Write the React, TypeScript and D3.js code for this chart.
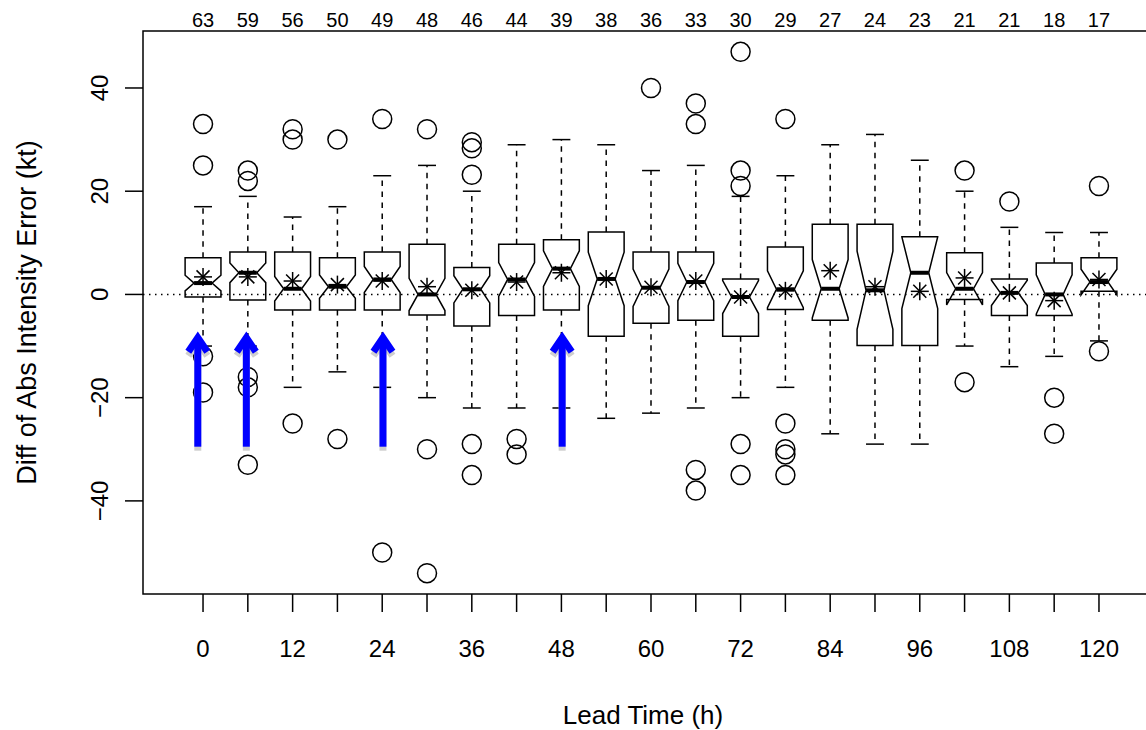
import React from "react";
import * as d3 from "d3";

const leads = [0, 6, 12, 18, 24, 30, 36, 42, 48, 54, 60, 66, 72, 78, 84, 90, 96, 102, 108, 114, 120];
const counts = [63, 59, 56, 50, 49, 48, 46, 44, 39, 38, 36, 33, 30, 29, 27, 24, 23, 21, 21, 18, 17];
const q1 = [-0.5, -1.1, -3, -3, -3, -4, -6.1, -4.1, -3, -8.1, -5.6, -5, -8.1, -2.9, -5, -9.9, -9.9, -1, -4.1, -4.1, 0.6];
const q3 = [7.1, 8.2, 8.2, 7.1, 8.2, 9.7, 5.2, 9.7, 10.6, 12.1, 8.2, 8.2, 3, 9.2, 13.6, 13.6, 11.2, 8.1, 3, 6.1, 7.1];
const medians = [2.2, 4.2, 1.1, 1.5, 2.9, 0, 1, 2.9, 5, 3, 1.3, 2.4, -0.5, 1, 1.1, 0.8, 4.2, 1.1, 0.3, 0, 2.4];
const means = [3.4, 3.4, 2.6, 1.9, 2.6, 1.5, 0.8, 2.4, 4.2, 3, 1.4, 2.6, -0.5, 0.7, 4.6, 1.5, 0.6, 3.2, 0.3, -1.2, 2.9];
const whiskLo = [-10, -10, -18, -15, -18, -20, -22, -22, -22, -24, -23, -22, -20, -18, -27, -29, -29, -10, -14, -12, -9];
const whiskHi = [17, 19, 15, 17, 23, 25, 20, 29, 30, 29, 24, 25, 19, 23, 29, 31, 26, 20, 13, 12, 12];
const outliers: number[][] = [
  [33, 25, -12, -19],
  [24, 22, -16, -18, -33],
  [32, 30, -25],
  [30, -28],
  [34, -50],
  [32, -30, -54],
  [29.5, 28.3, 23.2, -29, -35],
  [-28, -31],
  [],
  [],
  [40],
  [37, 33, -34, -38],
  [47, 24, 21, -29, -35],
  [34, -25, -30, -31, -35],
  [],
  [],
  [],
  [24, -17],
  [18],
  [-20, -27],
  [21, -11],
];
const yTicks = [-40, -20, 0, 20, 40];
const xLabelLeads = [0, 12, 24, 36, 48, 60, 72, 84, 96, 108, 120];
const arrowLeads = [-0.7, 5.8, 24.1, 48.1];
const arrowFrom = -29.5;
const arrowTo = -7.8;

const FONT = "'Liberation Sans', Arial, Helvetica, sans-serif";

export default function App() {
  const left = 143, right = 1159, top = 31, bottom = 594;
  const x = d3.scaleLinear().domain([-8.04, 128.04]).range([left, right]);
  const y = d3.scaleLinear().domain([-58.04, 51.04]).range([bottom, top]);
  const step = x(6) - x(0);
  const w = (step * 0.8) / 2;
  const lw = 1.5;

  const boxes = leads.map((lead, i) => {
    const cx = x(lead);
    const n = counts[i];
    const half = (1.58 * (q3[i] - q1[i])) / Math.sqrt(n);
    const lo = medians[i] - half;
    const hi = medians[i] + half;
    const pts: [number, number][] = [
      [cx - w, y(q1[i])],
      [cx - w, y(lo)],
      [cx - w / 2, y(medians[i])],
      [cx - w, y(hi)],
      [cx - w, y(q3[i])],
      [cx + w, y(q3[i])],
      [cx + w, y(hi)],
      [cx + w / 2, y(medians[i])],
      [cx + w, y(lo)],
      [cx + w, y(q1[i])],
    ];
    const my = y(means[i]);
    const a = 9, b = 6.5;
    return (
      <g key={lead}>
        <line x1={cx} x2={cx} y1={y(q3[i])} y2={y(whiskHi[i])} stroke="#000" strokeWidth={lw} strokeDasharray="5.5,5.5" />
        <line x1={cx} x2={cx} y1={y(q1[i])} y2={y(whiskLo[i])} stroke="#000" strokeWidth={lw} strokeDasharray="5.5,5.5" />
        <line x1={cx - w / 2} x2={cx + w / 2} y1={y(whiskHi[i])} y2={y(whiskHi[i])} stroke="#000" strokeWidth={lw} />
        <line x1={cx - w / 2} x2={cx + w / 2} y1={y(whiskLo[i])} y2={y(whiskLo[i])} stroke="#000" strokeWidth={lw} />
        <polygon points={pts.map((p) => p.join(",")).join(" ")} fill="none" stroke="#000" strokeWidth={lw} strokeLinejoin="miter" />
        <line x1={cx - w / 2} x2={cx + w / 2} y1={y(medians[i])} y2={y(medians[i])} stroke="#000" strokeWidth={4} />
        {outliers[i].map((v, j) => (
          <circle key={j} cx={cx} cy={y(v)} r={9.5} fill="none" stroke="#000" strokeWidth={lw} />
        ))}
        <g stroke="#000" strokeWidth={lw}>
          <line x1={cx - a} x2={cx + a} y1={my} y2={my} />
          <line x1={cx} x2={cx} y1={my - a} y2={my + a} />
          <line x1={cx - b} x2={cx + b} y1={my - b} y2={my + b} />
          <line x1={cx - b} x2={cx + b} y1={my + b} y2={my - b} />
        </g>
        <text x={cx} y={20} textAnchor="middle" dominantBaseline="central" fontSize={20} fontFamily={FONT}>
          {n}
        </text>
      </g>
    );
  });

  const arrow = (ax: number, color: string, dy: number, key: string) => {
    const tipY = y(arrowTo) + dy;
    const baseY = y(arrowFrom) + dy;
    return (
      <g key={key} stroke={color} strokeWidth={7} fill="none">
        <line x1={ax} x2={ax} y1={baseY} y2={tipY + 4} />
        <polyline points={`${ax - 9.5},${tipY + 17} ${ax},${tipY + 3} ${ax + 9.5},${tipY + 17}`} strokeLinejoin="miter" />
      </g>
    );
  };

  return (
    <svg width={1146} height={730} style={{ position: "absolute", left: 0, top: 0, background: "#fff" }}>
      <rect x={0} y={0} width={1146} height={730} fill="#fff" />
      <line x1={left} x2={right} y1={y(0)} y2={y(0)} stroke="#000" strokeWidth={1.5} strokeDasharray="1.5,4.5" />
      {boxes}
      {arrowLeads.map((l, i) => arrow(x(l), "#cfcfcf", 4, "s" + i))}
      {arrowLeads.map((l, i) => arrow(x(l), "#0000ff", 0, "a" + i))}
      <rect x={left} y={top} width={right - left} height={bottom - top} fill="none" stroke="#000" strokeWidth={1.5} />
      {yTicks.map((t) => (
        <g key={t}>
          <line x1={left - 18} x2={left} y1={y(t)} y2={y(t)} stroke="#000" strokeWidth={1.5} />
          <text
            transform={`translate(99,${y(t)}) rotate(-90)`}
            textAnchor="middle"
            dominantBaseline="central"
            fontSize={24}
            fontFamily={FONT}
          >
            {t < 0 ? "\u2212" + Math.abs(t) : String(t)}
          </text>
        </g>
      ))}
      {leads.map((l) => (
        <line key={l} x1={x(l)} x2={x(l)} y1={bottom} y2={bottom + 18} stroke="#000" strokeWidth={1.5} />
      ))}
      {xLabelLeads.map((l) => (
        <text key={l} x={x(l)} y={648} textAnchor="middle" dominantBaseline="central" fontSize={24} fontFamily={FONT}>
          {l}
        </text>
      ))}
      <text x={(left + right) / 2 - 8} y={715} textAnchor="middle" dominantBaseline="central" fontSize={26} fontFamily={FONT}>
        Lead Time (h)
      </text>
      <text
        transform={`translate(27,${(top + bottom) / 2}) rotate(-90)`}
        textAnchor="middle"
        dominantBaseline="central"
        fontSize={27}
        fontFamily={FONT}
      >
        Diff of Abs Intensity Error (kt)
      </text>
    </svg>
  );
}
